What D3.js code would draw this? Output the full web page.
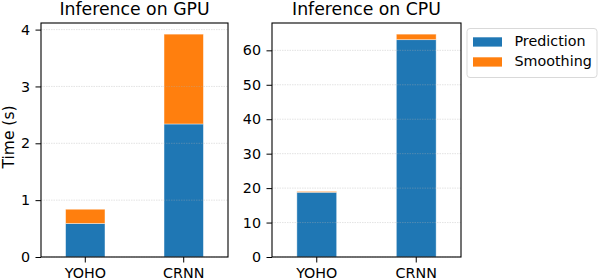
<!DOCTYPE html>
<html>
<head>
<meta charset="utf-8">
<script src="https://cdn.jsdelivr.net/npm/d3@7"></script>
<style>
	body { margin: 0; background: #fff; }
	text { font-family: "DejaVu Sans", sans-serif; fill: #000; }
</style>
</head>
<body>
<div id="container"></div>
<script>
const models = ["YOHO", "CRNN"];
const seriesNames = ["Prediction", "Smoothing"];
const colors = ["#1f77b4", "#ff7f0e"];

const gpuPrediction = [0.59, 2.34];
const gpuSmoothing = [0.25, 1.58];
const cpuPrediction = [18.8, 63.1];
const cpuSmoothing = [0.25, 1.6];

const gpuTicks = [0, 1, 2, 3, 4];
const cpuTicks = [0, 10, 20, 30, 40, 50, 60];

const width = 600;
const height = 280;
const tickFont = "14.3px";

const svg = d3
	.select("#container")
	.append("svg")
	.attr("width", width)
	.attr("height", height);

function drawPanel(opts) {
	const { left, right, top, bottom, title, pred, smooth, ticks, yLabel } = opts;

	const rows = models.map((m, i) => ({ model: m, Prediction: pred[i], Smoothing: smooth[i] }));
	const stacked = d3.stack().keys(seriesNames)(rows);
	const maxTotal = d3.max(rows, (d) => d.Prediction + d.Smoothing);

	const x = d3.scaleBand()
		.domain(models)
		.range([left, right])
		.paddingInner(0.6)
		.paddingOuter(0.25);

	const y = d3.scaleLinear()
		.domain([0, maxTotal * 1.05])
		.range([bottom, top]);

	const g = svg.append("g");

	// bars
	g.selectAll("g.series")
		.data(stacked)
		.enter()
		.append("g")
		.attr("fill", (d, i) => colors[i])
		.selectAll("rect")
		.data((d) => d)
		.enter()
		.append("rect")
		.attr("x", (d) => x(d.data.model))
		.attr("width", x.bandwidth())
		.attr("y", (d) => y(d[1]))
		.attr("height", (d) => y(d[0]) - y(d[1]))
		.attr("stroke", "#fff")
		.attr("stroke-opacity", 0.5)
		.attr("stroke-width", 0.8);

	// grid on top of the bars
	g.append("g")
		.selectAll("line")
		.data(ticks)
		.enter()
		.append("line")
		.attr("x1", left)
		.attr("x2", right)
		.attr("y1", (d) => y(d))
		.attr("y2", (d) => y(d))
		.attr("stroke", "#b0b0b0")
		.attr("stroke-opacity", 0.35)
		.attr("stroke-width", 1)
		.attr("stroke-dasharray", "1.5,1");

	const yAxis = d3.axisLeft(y)
		.tickValues(ticks)
		.tickFormat(d3.format("d"))
		.tickSize(5.5)
		.tickPadding(5.5)
		.tickSizeOuter(0);

	const xAxis = d3.axisBottom(x)
		.tickSize(5.5)
		.tickPadding(5.5)
		.tickSizeOuter(0);

	const ya = g.append("g")
		.attr("transform", `translate(${left}, 0)`)
		.call(yAxis);
	const xa = g.append("g")
		.attr("transform", `translate(0, ${bottom})`)
		.call(xAxis);

	[ya, xa].forEach((a) => {
		a.select(".domain").remove();
		a.selectAll("text").style("font-size", tickFont).style("font-family", "DejaVu Sans");
		a.selectAll("line").attr("stroke", "#000").attr("stroke-width", 1);
	});

	// frame
	g.append("rect")
		.attr("x", left)
		.attr("y", top)
		.attr("width", right - left)
		.attr("height", bottom - top)
		.attr("fill", "none")
		.attr("stroke", "#000")
		.attr("stroke-width", 1.1);

	g.append("text")
		.attr("x", (left + right) / 2)
		.attr("y", 15)
		.attr("text-anchor", "middle")
		.style("font-size", "17.3px")
		.text(title);

	if (yLabel) {
		g.append("text")
			.attr("transform", `translate(14, ${(top + bottom) / 2 - 3}) rotate(-90)`)
			.attr("text-anchor", "middle")
			.style("font-size", "15.5px")
			.text(yLabel);
	}
}

drawPanel({
	left: 41, right: 228, top: 23, bottom: 257,
	title: "Inference on GPU",
	pred: gpuPrediction, smooth: gpuSmoothing,
	ticks: gpuTicks, yLabel: "Time (s)"
});

drawPanel({
	left: 272, right: 461, top: 23, bottom: 257,
	title: "Inference on CPU",
	pred: cpuPrediction, smooth: cpuSmoothing,
	ticks: cpuTicks
});

// legend
const legend = svg.append("g").attr("transform", "translate(467, 28.5)");
legend.append("rect")
	.attr("width", 130)
	.attr("height", 49)
	.attr("rx", 3)
	.attr("fill", "#fff")
	.attr("stroke", "#d9d9d9")
	.attr("stroke-width", 1);

const items = legend.selectAll("g.item")
	.data(seriesNames)
	.enter()
	.append("g")
	.attr("transform", (d, i) => `translate(6, ${8.8 + i * 20})`);

items.append("rect")
	.attr("width", 29)
	.attr("height", 9.3)
	.attr("fill", (d, i) => colors[i]);

items.append("text")
	.attr("x", 41.5)
	.attr("y", 8.5)
	.style("font-size", tickFont)
	.text((d) => d);
</script>
</body>
</html>
